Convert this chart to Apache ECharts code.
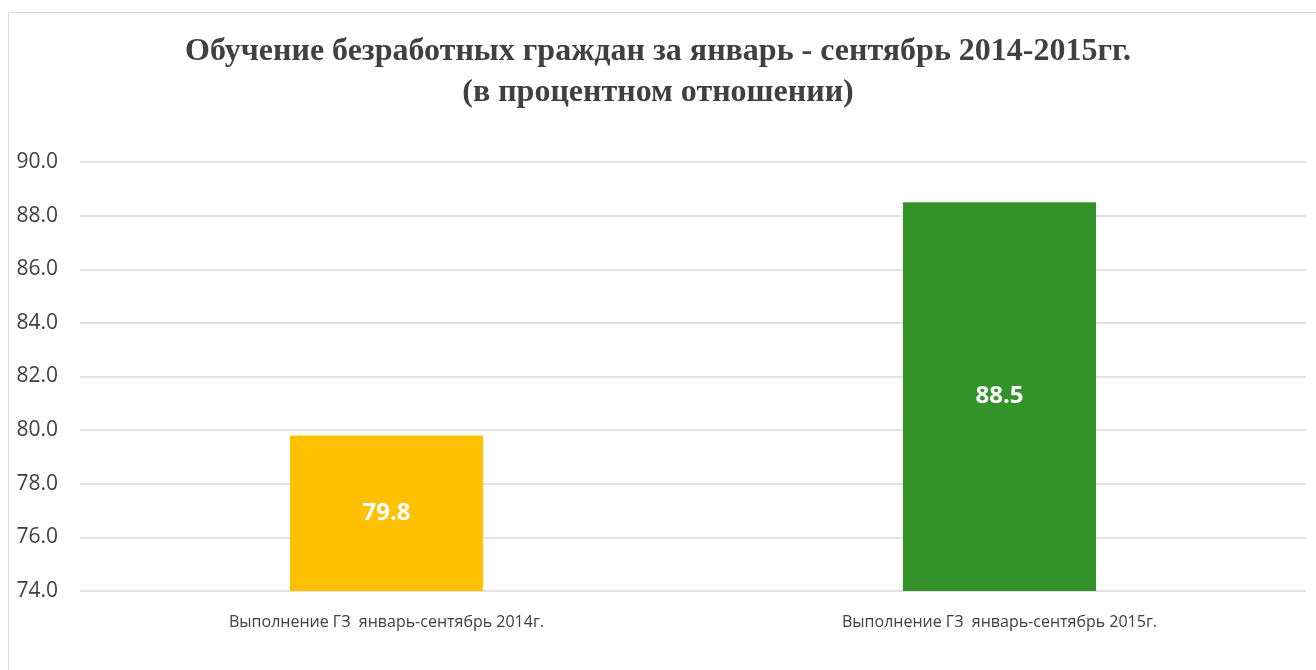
<!DOCTYPE html>
<html>
<head>
<meta charset="utf-8">
<script src="https://cdn.jsdelivr.net/npm/echarts@6/dist/echarts.min.js"></script>
<style>
  html, body { margin: 0; padding: 0; background: #fff; }
  #chart { width: 1316px; height: 670px; }
</style>
</head>
<body>
<div id="chart"></div>
<script>
const categories = [
  'Выполнение ГЗ  январь-сентябрь 2014г.',
  'Выполнение ГЗ  январь-сентябрь 2015г.'
];
const values = [79.8, 88.5];
const barColors = ['#FFC000', '#33922A'];

const myChart = echarts.init(document.getElementById('chart'));

const options = {
  animation: false,
  title: {
    text: 'Обучение безработных граждан за январь - сентябрь 2014-2015гг.\n(в процентном отношении)',
    left: 'center',
    top: 26,
    textStyle: {
      fontFamily: 'Liberation Serif',
      fontWeight: 'bold',
      fontSize: 32,
      lineHeight: 41,
      color: '#404040'
    }
  },
  graphic: [{
    type: 'rect',
    shape: { x: 8.5, y: 12.5, width: 1400, height: 700 },
    style: { fill: 'none', stroke: '#d9d9d9', lineWidth: 1 },
    silent: true
  }],
  grid: { left: 80, right: 10, top: 162, bottom: 79 },
  xAxis: {
    type: 'category',
    data: categories,
    axisLine: { show: false },
    axisTick: { show: false },
    axisLabel: {
      margin: 23,
      fontFamily: 'Open Sans',
      fontSize: 16,
      color: '#404040'
    }
  },
  yAxis: {
    type: 'value',
    min: 74,
    max: 90,
    interval: 2,
    axisLine: { show: false },
    axisTick: { show: false },
    splitLine: { lineStyle: { color: '#d9d9d9', width: 1.5 } },
    axisLabel: {
      margin: 22,
      fontFamily: 'Open Sans',
      fontSize: 21,
      color: '#404040',
      formatter: v => v.toFixed(1)
    }
  },
  series: [{
    type: 'bar',
    barWidth: '31.5%',
    data: values.map((v, i) => ({ value: v, itemStyle: { color: barColors[i] } })),
    label: {
      show: true,
      position: 'inside',
      color: '#fff',
      fontFamily: 'Open Sans',
      fontWeight: 'bold',
      fontSize: 24,
      formatter: p => p.value.toFixed(1)
    }
  }]
};

myChart.setOption(options);
</script>
</body>
</html>
